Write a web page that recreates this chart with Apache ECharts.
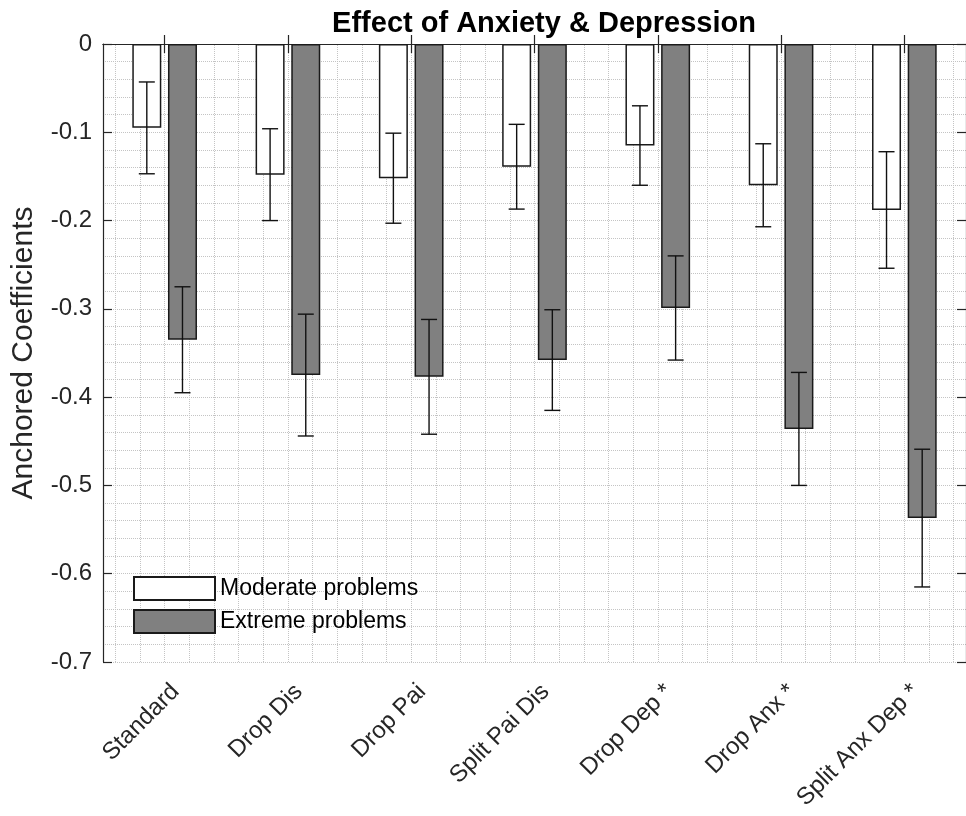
<!DOCTYPE html>
<html>
<head>
<meta charset="utf-8">
<script src="https://cdn.jsdelivr.net/npm/echarts@6/dist/echarts.min.js"></script>
<style>
html,body{margin:0;padding:0;background:#fff;}
#chart{width:966px;height:816px;}
</style>
</head>
<body>
<div id="chart"></div>
<script>
// ---- data ----
const categories = ['Standard', 'Drop Dis', 'Drop Pai', 'Split Pai Dis', 'Drop Dep *', 'Drop Anx *', 'Split Anx Dep *'];
const seriesNames = ['Moderate problems', 'Extreme problems'];
const moderate    = [-0.095, -0.148, -0.152, -0.139, -0.115, -0.160, -0.188];
const moderateErr = [0.052, 0.052, 0.051, 0.048, 0.045, 0.047, 0.066];
const extreme     = [-0.335, -0.375, -0.377, -0.358, -0.299, -0.436, -0.537];
const extremeErr  = [0.060, 0.069, 0.065, 0.057, 0.059, 0.064, 0.078];
const yMin = -0.7, yMax = 0, yStep = 0.1;

// ---- style constants ----
const FONT = 'Liberation Sans, Arial, Helvetica, sans-serif';
const AXIS_COLOR = '#262626';
const GRID_COLOR = '#c4c4c4';
const BAR_W = 29;
const BAR_GAP = 0.23;
const GROUP_OFF = (BAR_W + BAR_W * BAR_GAP) / 2;
const CAP_W = 16;

// vertical minor grid positions (every 0.2 category units)
const vGrid = [];
for (let k = 3; k <= 37; k++) vGrid.push({ xAxis: k / 5 });

function errSeries(means, errs, offset) {
  return {
    type: 'custom',
    xAxisIndex: 0,
    yAxisIndex: 0,
    z: 5,
    silent: true,
    data: means.map((m, i) => [i, m, errs[i]]),
    encode: { x: 0, y: 1 },
    renderItem: function (params, api) {
      const i = api.value(0), m = api.value(1), e = api.value(2);
      const pTop = api.coord([i, m + e]);
      const pBot = api.coord([i, m - e]);
      const cx = pTop[0] + offset;
      const st = { stroke: '#111', lineWidth: 1.4 };
      return {
        type: 'group',
        children: [
          { type: 'line', shape: { x1: cx, y1: pTop[1], x2: cx, y2: pBot[1] }, style: st },
          { type: 'line', shape: { x1: cx - CAP_W / 2, y1: pTop[1], x2: cx + CAP_W / 2, y2: pTop[1] }, style: st },
          { type: 'line', shape: { x1: cx - CAP_W / 2, y1: pBot[1], x2: cx + CAP_W / 2, y2: pBot[1] }, style: st }
        ]
      };
    }
  };
}

const chart = echarts.init(document.getElementById('chart'), null, { renderer: 'canvas' });
const option = {
  animation: false,
  backgroundColor: '#ffffff',
  textStyle: { fontFamily: FONT },
  title: {
    text: 'Effect of Anxiety & Depression',
    left: 539,
    top: 4,
    textAlign: 'center',
    textStyle: { fontFamily: FONT, fontSize: 29, fontWeight: 'bold', color: '#000' }
  },
  legend: {
    data: seriesNames,
    orient: 'vertical',
    left: 133,
    top: 576,
    itemWidth: 81,
    itemHeight: 23,
    itemGap: 8,
    icon: 'rect',
    padding: 0,
    textStyle: { fontFamily: FONT, fontSize: 23, color: '#000' }
  },
  grid: { left: 103, top: 44, width: 872, height: 618, containLabel: false },
  xAxis: [
    {
      type: 'category',
      position: 'bottom',
      data: categories,
      boundaryGap: true,
      axisLine: { show: true, lineStyle: { color: AXIS_COLOR, width: 1.2 } },
      axisTick: { show: true, inside: true, length: 9, alignWithLabel: true, lineStyle: { color: AXIS_COLOR, width: 1.2 } },
      axisLabel: {
        rotate: 45, fontSize: 24, color: AXIS_COLOR, fontFamily: FONT,
        margin: 15, verticalAlign: 'top', lineHeight: 31, interval: 0
      },
      splitLine: { show: false }
    },
    {
      type: 'category',
      position: 'top',
      data: categories,
      boundaryGap: true,
      axisLine: { show: true, lineStyle: { color: AXIS_COLOR, width: 1.2 } },
      axisTick: { show: true, inside: true, length: 9, alignWithLabel: true, lineStyle: { color: AXIS_COLOR, width: 1.2 } },
      axisLabel: { show: false },
      splitLine: { show: false }
    },
    {
      type: 'value',
      min: 0.5,
      max: 7.5,
      show: false,
      splitLine: { show: false }
    }
  ],
  yAxis: [
    {
      type: 'value',
      position: 'left',
      min: yMin,
      max: yMax,
      interval: yStep,
      name: 'Anchored Coefficients',
      nameLocation: 'middle',
      nameGap: 64,
      nameTextStyle: { fontFamily: FONT, fontSize: 30, color: AXIS_COLOR },
      axisLine: { show: true, lineStyle: { color: AXIS_COLOR, width: 1.2 } },
      axisTick: { show: true, inside: true, length: 9, lineStyle: { color: AXIS_COLOR, width: 1.2 } },
      axisLabel: { fontSize: 24, color: AXIS_COLOR, fontFamily: FONT, margin: 11 },
      splitLine: { show: true, lineStyle: { color: GRID_COLOR, type: 'dotted', width: 1 } },
      minorTick: { show: false, splitNumber: 5 },
      minorSplitLine: { show: true, lineStyle: { color: GRID_COLOR, type: 'dotted', width: 1 } }
    },
    {
      type: 'value',
      position: 'right',
      min: yMin,
      max: yMax,
      interval: yStep,
      axisLine: { show: true, lineStyle: { color: AXIS_COLOR, width: 1.2 } },
      axisTick: { show: true, inside: true, length: 9, lineStyle: { color: AXIS_COLOR, width: 1.2 } },
      axisLabel: { show: false },
      splitLine: { show: false }
    }
  ],
  series: [
    {
      type: 'line',
      xAxisIndex: 2,
      yAxisIndex: 0,
      data: [],
      silent: true,
      z: 0,
      markLine: {
        silent: true,
        symbol: 'none',
        z: 0,
        label: { show: false },
        lineStyle: { color: GRID_COLOR, type: 'dotted', width: 1 },
        emphasis: { disabled: true },
        data: vGrid
      }
    },
    {
      name: seriesNames[0],
      type: 'bar',
      xAxisIndex: 0,
      yAxisIndex: 0,
      data: moderate,
      barWidth: BAR_W,
      barGap: (BAR_GAP * 100) + '%',
      z: 3,
      itemStyle: { color: '#ffffff', borderColor: '#1a1a1a', borderWidth: 1.5 }
    },
    {
      name: seriesNames[1],
      type: 'bar',
      xAxisIndex: 0,
      yAxisIndex: 0,
      data: extreme,
      barWidth: BAR_W,
      barGap: (BAR_GAP * 100) + '%',
      z: 3,
      itemStyle: { color: '#808080', borderColor: '#1a1a1a', borderWidth: 1.5 }
    },
    errSeries(moderate, moderateErr, -GROUP_OFF),
    errSeries(extreme, extremeErr, GROUP_OFF)
  ]
};
chart.setOption(option);
</script>
</body>
</html>
